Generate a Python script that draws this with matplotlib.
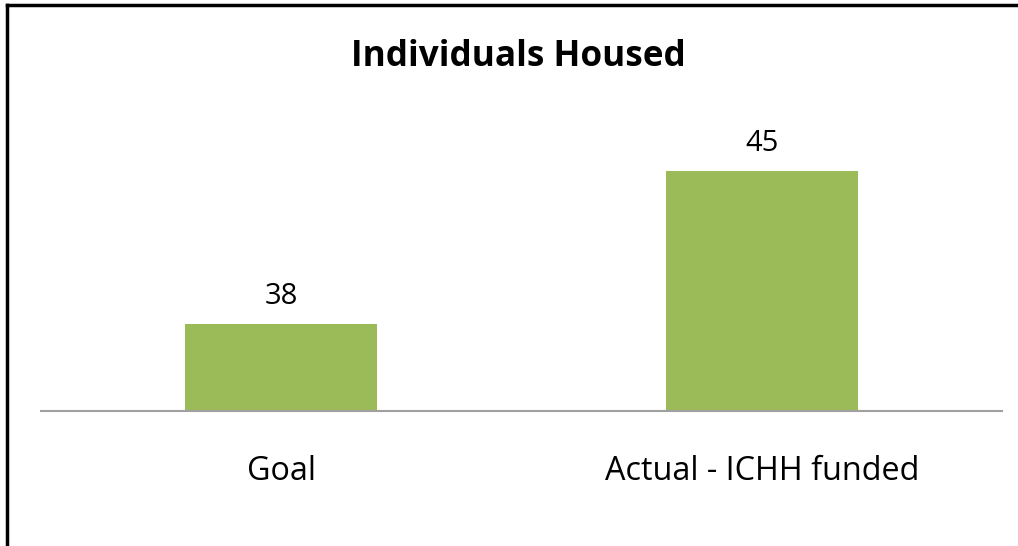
import matplotlib.pyplot as plt
from matplotlib.lines import Line2D

# data
categories = ["Goal", "Actual - ICHH funded"]
values = [38, 45]
title = "Individuals Housed"

plt.rcParams['font.family'] = ['Open Sans', 'DejaVu Sans']

W, H = 1018, 546
fig = plt.figure(figsize=(W / 100, H / 100), dpi=100)
ax = fig.add_axes([41 / W, (H - 411) / H, (1002 - 41) / W, (411 - 149) / H])

x = list(range(len(categories)))
bars = ax.bar(x, values, width=0.4, color='#9BBB59', zorder=2)
ax.set_xlim(-0.5, len(categories) - 0.5)
ax.set_ylim(34, 46)

for b, v in zip(bars, values):
    ax.annotate(str(v), (b.get_x() + b.get_width() / 2, v), xytext=(0, 9),
                textcoords='offset points', ha='center', va='bottom', fontsize=21)

for s in ['top', 'right', 'left']:
    ax.spines[s].set_visible(False)
ax.spines['bottom'].set_color('#a0a0a0')
ax.spines['bottom'].set_linewidth(1.5)
ax.set_yticks([])
ax.set_xticks(x)
ax.set_xticklabels(categories, fontsize=23.3)
ax.tick_params(axis='x', length=0, pad=32)

fig.text(518 / W, 1 - 57 / H, title, ha='center', va='center', fontsize=25.3, fontweight='bold')

# outer frame (left and top edges only)
fig.add_artist(Line2D([7 / W, 7 / W], [0, 1 - 4.5 / H], color='black', lw=2.5, transform=fig.transFigure))
fig.add_artist(Line2D([7 / W, 1], [1 - 4.5 / H, 1 - 4.5 / H], color='black', lw=2.5, transform=fig.transFigure))

fig.savefig('out.png', dpi=100)
